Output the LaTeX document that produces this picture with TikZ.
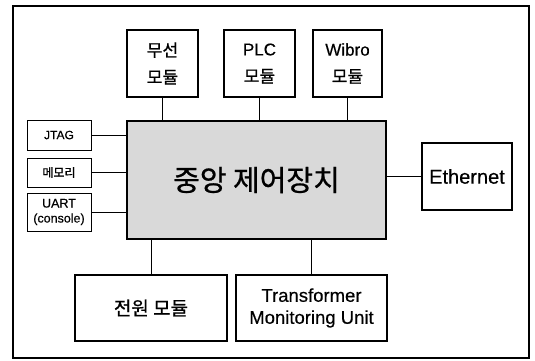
\documentclass[tikz,border=0pt]{standalone}
\usepackage{fontspec}
\setmainfont{Liberation Sans}[FakeBold=0.4]
\newfontfamily\kr{Noto Sans CJK KR}[FakeBold=0.8]
\begin{document}
\begin{tikzpicture}[x=1pt,y=-1pt,
  bigbox/.style={draw=black,line width=1.8pt,fill=white,align=center,inner sep=0pt},
  smallbox/.style={draw=black,line width=0.9pt,fill=white,align=center,inner sep=0pt,minimum width=64pt},
  conn/.style={draw=black,line width=1pt}]
\useasboundingbox (0,0) rectangle (535,360);
\draw[line width=1.5pt] (13,6) rectangle (529,358);
% top modules
\node[bigbox,minimum width=71pt,minimum height=67pt,font=\fontsize{17}{27}\selectfont] (mu) at (162.5,63.5) {{\kr 무선}\\{\kr 모듈}};
\node[bigbox,minimum width=71pt,minimum height=67pt,font=\fontsize{17}{27}\selectfont] (plc) at (259.5,63.5) {PLC\\{\kr 모듈}};
\node[bigbox,minimum width=69pt,minimum height=67pt,font=\fontsize{17}{27}\selectfont] (wib) at (347.5,63.5) {Wibro\\{\kr 모듈}};
% central
\node[bigbox,fill=black!15,minimum width=259pt,minimum height=118pt,font=\fontsize{29}{32}\selectfont] (ctrl) at (256.5,180) {\kr 중앙 제어장치};
% left
\node[smallbox,minimum height=30pt,font=\fontsize{12}{14}\selectfont] (jtag) at (59,135) {JTAG};
\node[smallbox,minimum height=29pt,font=\fontsize{12}{14}\selectfont] (mem) at (59,172.5) {\kr 메모리};
\node[smallbox,minimum height=38pt,font=\fontsize{12.5}{15}\selectfont] (uart) at (59,212) {UART\\(console)};
% right
\node[bigbox,minimum width=90pt,minimum height=67pt,font=\fontsize{20}{22}\selectfont] (eth) at (467,176.5) {Ethernet};
% bottom
\node[bigbox,minimum width=152pt,minimum height=66pt,font=\fontsize{19}{22}\selectfont] (pwr) at (151,308) {\kr 전원 모듈};
\node[bigbox,minimum width=151pt,minimum height=66pt,font=\fontsize{18.5}{22}\selectfont] (tmu) at (311.5,308) {Transformer\\Monitoring Unit};
% connectors
\draw[conn] (mu.south) -- (mu.south |- ctrl.north);
\draw[conn] (plc.south) -- (plc.south |- ctrl.north);
\draw[conn] (wib.south) -- (wib.south |- ctrl.north);
\draw[conn] (jtag.east) -- (jtag.east -| ctrl.west);
\draw[conn] (mem.east) -- (mem.east -| ctrl.west);
\draw[conn] (uart.east) -- (uart.east -| ctrl.west);
\draw[conn] (eth.west) -- (eth.west -| ctrl.east);
\draw[conn] (pwr.north) -- (pwr.north |- ctrl.south);
\draw[conn] (tmu.north) -- (tmu.north |- ctrl.south);
\end{tikzpicture}
\end{document}
